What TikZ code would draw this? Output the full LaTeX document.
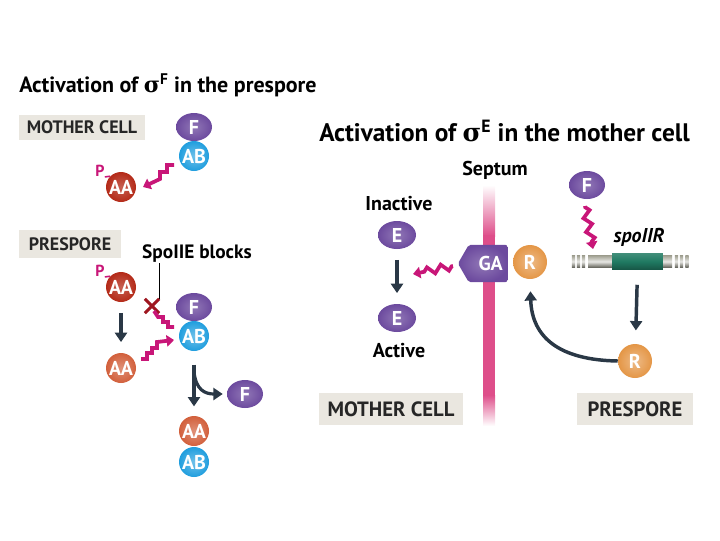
\documentclass[tikz,border=0pt]{standalone}
\usepackage{fontspec}
\setmainfont{PT Sans}
\newfontfamily\greekfont{DejaVu Serif}
\usetikzlibrary{arrows.meta, positioning, shapes.geometric, shapes.symbols, shapes.misc, decorations.pathmorphing}

\definecolor{cellgray}{RGB}{234,231,224}
\definecolor{fpurple}{RGB}{108,74,158}
\definecolor{abblue}{RGB}{32,158,222}
\definecolor{aadark}{RGB}{180,42,24}
\definecolor{aalight}{RGB}{210,96,60}
\definecolor{rorange}{RGB}{228,150,70}
\definecolor{zigmag}{RGB}{200,22,120}
\definecolor{arrowdark}{RGB}{42,56,70}
\definecolor{septpink}{RGB}{222,78,138}
\definecolor{xred}{RGB}{158,22,32}
\definecolor{genegray}{RGB}{160,160,145}
\definecolor{genegreen}{RGB}{32,122,98}

\newcommand{\sigmasub}[1]{{\greekfont σ}\textsuperscript{#1}}

\begin{document}
\begin{tikzpicture}[
    x=0.75pt, y=-0.75pt,
    every node/.style={font=\bfseries},
    cellbox/.style={fill=cellgray, inner sep=0pt, text=black!85},
    smallbox/.style={cellbox, minimum height=19pt, font=\bfseries\fontsize{13.5}{15}\selectfont},
    bigbox/.style={cellbox, minimum height=24pt, font=\bfseries\fontsize{15.5}{18}\selectfont},
    heading/.style={anchor=west, inner sep=0pt, font=\bfseries\fontsize{16.5}{19}\selectfont},
    caption/.style={inner sep=0pt, font=\bfseries\fontsize{15}{18}\selectfont},
    mol/.style={inner sep=0pt, text=white, font=\bfseries\fontsize{15}{17}\selectfont},
    fmol/.style={mol, ellipse, minimum width=27pt, minimum height=21pt,
        inner color=fpurple!75!white, outer color=fpurple},
    emol/.style={fmol, minimum width=28.5pt},
    abmol/.style={mol, circle, minimum size=22.5pt,
        inner color=abblue!65!white, outer color=abblue},
    pmol/.style={mol, circle, minimum size=22.5pt,
        inner color=aadark!75!white, outer color=aadark},
    aamol/.style={mol, circle, minimum size=22.5pt,
        inner color=aalight!70!white, outer color=aalight},
    rmol/.style={mol, circle, minimum size=25.5pt,
        inner color=rorange!65!white, outer color=rorange},
    plabel/.style={inner sep=0pt, text=zigmag, font=\bfseries\fontsize{12}{14}\selectfont},
    darrow/.style={draw=arrowdark, line width=2.6pt, -{Triangle[length=7pt, width=9pt]}},
    stairline/.style={draw=zigmag, line width=2.8pt, line join=miter},
    stairarrow/.style={stairline, -{Triangle[length=5.5pt, width=8.5pt]}},
    wiggle/.style={stairarrow, decorate,
        decoration={zigzag, segment length=10.5pt, amplitude=2.8pt, pre length=1pt, post length=4pt}}
]
\useasboundingbox (0,0) rectangle (720,540);

% Left panel
\node[heading] (t1) at (19,85) {Activation of \sigmasub{F} in the prespore};

\node[smallbox, minimum width=94.5pt] (mc1) at (82,127.5) {MOTHER CELL};
\node[fmol] (f1) at (194,127) {F};
\node[abmol] (ab1) at (194,156) {AB};
\node[pmol] (aa1) at (121,187) {AA};
\node[plabel] (p1) at (100,171) {P};
\draw[zigmag, line width=1.2pt] (p1.south east) -- (aa1.north west);
\coordinate (z1s) at (174,165);
\coordinate (z1e) at (143,187);
\draw[stairarrow] (z1s) -- ++(-7,0) -- ++(0,7) -- ++(-7,0) -- ++(0,7) -- (z1e);

\node[smallbox, minimum width=76.5pt, minimum height=21pt] (ps1) at (70,244) {PRESPORE};
\node[caption, font=\bfseries\fontsize{14.5}{17}\selectfont] (blk) at (197,254) {SpoIIE blocks};
\node[pmol] (aa2) at (121,287) {AA};
\node[plabel] (p2) at (100,271) {P};
\draw[zigmag, line width=1.2pt] (p2.south east) -- (aa2.north west);
\node[aamol] (aa3) at (121,368) {AA};
\draw[darrow, shorten <=8pt, shorten >=8pt] (aa2) -- (aa3);

\node[fmol] (f2) at (194,307) {F};
\node[abmol] (ab2) at (194,336) {AB};
\node[cross out, draw=xred, line width=2.2pt, minimum size=8.5pt, inner sep=0pt] (xm) at (152,306) {};
\draw[black, line width=0.8pt] (xm.north east |- blk.south) -- (xm.north east);
\coordinate (z2s) at (154,311);
\draw[stairline] (z2s) -- ++(4,6) -- ++(5,0) -- ++(0,5) -- ++(5,0) -- ++(0,5) -- ++(6,0);
\coordinate (z3s) at (141,359);
\coordinate (z3e) at (174,340);
\draw[stairarrow] (z3s) -- ++(6,0) -- ++(0,-6) -- ++(5,0) -- ++(0,-5) -- ++(5,0) -- ++(0,-6) -- (z3e);

\node[aamol] (aa4) at (194,431) {AA};
\node[abmol] (ab4) at (194,462) {AB};
\node[fmol] (f3) at (245,394) {F};
\draw[darrow, shorten <=10pt, shorten >=7pt] (ab2) -- (aa4);
\coordinate (br) at (194,372);
\draw[darrow, line width=2.4pt, shorten >=3pt] (br) .. controls (196,390) and (205,394) .. (f3.west);

% Right panel
\node[heading, font=\bfseries\fontsize{19}{22}\selectfont] (t2) at (319,131) {Activation of \sigmasub{E} in the mother cell};
\node[caption] (sept) at (495,170) {Septum};

\shade[top color=white, bottom color=septpink] (483,185) rectangle (495,236);
\fill[septpink] (483,235) rectangle (495,396);
\shade[top color=septpink, bottom color=white] (483,395) rectangle (495,426);

\node[caption] (inact) at (399,204) {Inactive};
\node[emol] (e1) at (397,235) {E};
\node[emol] (e2) at (397,318) {E};
\node[caption] (act) at (399,351) {Active};
\draw[darrow, shorten <=8pt, shorten >=8pt] (e1) -- (e2);

\node[mol, signal, signal to=west, signal pointer angle=120, rounded corners=1.5pt,
    minimum width=37pt, minimum height=28pt,
    inner color=fpurple!75!white, outer color=fpurple] (ga) at (488,263.5) {\hspace{4pt}GA};
\node[rmol] (r1) at (530,262) {R};
\coordinate (z4s) at (453,266);
\coordinate (z4e) at (413,274);
\draw[wiggle] (z4s) -- (z4e);

\node[fmol] (f4) at (587,185) {F};
\coordinate (z5s) at (585,206);
\coordinate (z5e) at (593,249);
\draw[wiggle] (z5s) -- (z5e);
\node[caption, font=\bfseries\itshape\fontsize{15}{18}\selectfont] (gname) at (639,237) {spoIIR};

% gene
\node[inner sep=0pt, minimum width=63pt, minimum height=9pt,
    top color=genegray, bottom color=genegray!60!black, middle color=genegray!25!white] (gene) at (630,261.5) {};
\foreach \x in {573.5,578.5,583.5,676.5,681.5,687}
    \shade[top color=genegray, bottom color=genegray!60!black, middle color=genegray!25!white]
        (\x-1.6,255.5) rectangle (\x+1.6,267.5);
\node[inner sep=0pt, minimum width=38pt, minimum height=12.5pt,
    top color=genegreen!85!white, bottom color=genegreen!70!black, middle color=genegreen] (gfill) at (637.5,261.5) {};

\node[rmol] (r2) at (635,361) {R};
\draw[darrow, shorten <=11pt, shorten >=10pt] (gfill.south) -- (r2);
\draw[darrow, shorten >=9pt] (r2.west) .. controls (560,360) and (532,338) .. (r1.south);

\node[bigbox, minimum width=108pt] (mc2) at (391,409) {MOTHER CELL};
\node[bigbox, minimum width=87pt] (ps2) at (635,409) {PRESPORE};

\end{tikzpicture}
\end{document}
